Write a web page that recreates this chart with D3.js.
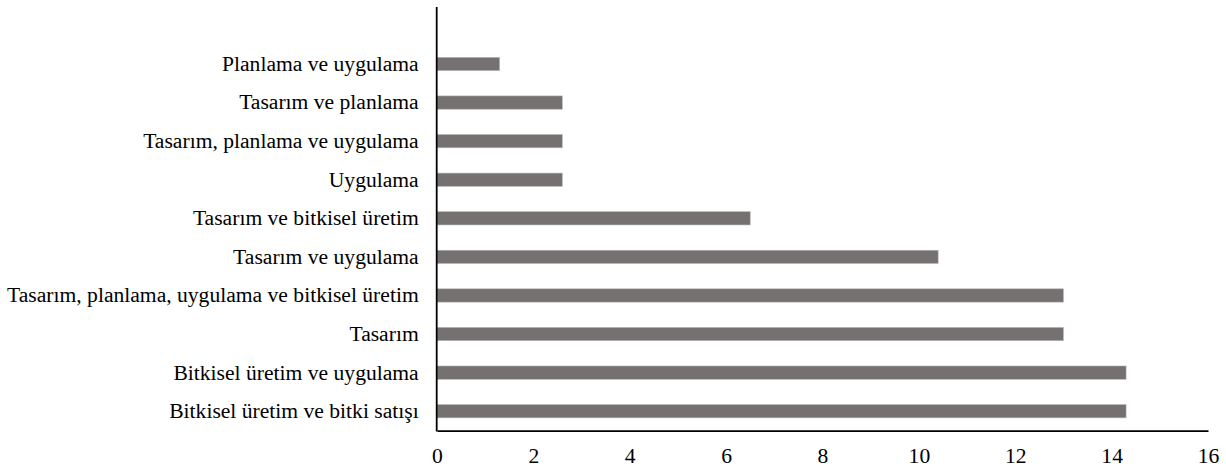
<!DOCTYPE html>
<html>
<head>
<meta charset="utf-8">
<script src="https://cdn.jsdelivr.net/npm/d3@7.9.0/dist/d3.min.js"></script>
<style>
    body { margin: 0; background: #fff; }
    svg text { font-family: "Liberation Serif", "Times New Roman", serif; fill: #000; }
</style>
</head>
<body>
<svg id="chart" width="1226" height="470"></svg>
<script>
// categories top to bottom
const categories = [
    "Planlama ve uygulama",
    "Tasarım ve planlama",
    "Tasarım, planlama ve uygulama",
    "Uygulama",
    "Tasarım ve bitkisel üretim",
    "Tasarım ve uygulama",
    "Tasarım, planlama, uygulama ve bitkisel üretim",
    "Tasarım",
    "Bitkisel üretim ve uygulama",
    "Bitkisel üretim ve bitki satışı"
];
const values = [1.3, 2.6, 2.6, 2.6, 6.5, 10.4, 13, 13, 14.3, 14.3];
const xTicks = [0, 2, 4, 6, 8, 10, 12, 14, 16];

const data = categories.map((c, i) => ({ label: c, value: values[i] }));

const svg = d3.select('#chart');

const x = d3.scaleLinear().domain([0, 16]).range([437, 1208]);
const y = d3.scaleBand()
    .domain(categories)
    .range([44.7, 430.5])
    .paddingInner(0.655)
    .paddingOuter(0.3275);

svg.append('g')
    .selectAll('rect')
    .data(data)
    .join('rect')
    .attr('x', x(0))
    .attr('y', d => y(d.label))
    .attr('width', d => x(d.value) - x(0))
    .attr('height', y.bandwidth())
    .attr('fill', '#767171')
    .attr('stroke', '#b8b6b6')
    .attr('stroke-width', 0.6);

// x axis
const xAxis = svg.append('g')
    .attr('transform', 'translate(0,430.7)')
    .call(d3.axisBottom(x).tickValues(xTicks).tickSize(0).tickPadding(16.8).tickFormat(d3.format('d')));
xAxis.select('.domain').attr('stroke', '#000').attr('stroke-width', 1.8);
xAxis.selectAll('text').style('font-size', '21.6px');

// y axis
const yAxis = svg.append('g')
    .attr('transform', 'translate(436.7,0)')
    .call(d3.axisLeft(y).tickSize(0).tickPadding(18));
yAxis.select('.domain').remove();
yAxis.selectAll('text').style('font-size', '21.6px');

svg.append('line')
    .attr('x1', 436.7).attr('x2', 436.7)
    .attr('y1', 7).attr('y2', 431.5)
    .attr('stroke', '#000')
    .attr('stroke-width', 1.8);
</script>
</body>
</html>
